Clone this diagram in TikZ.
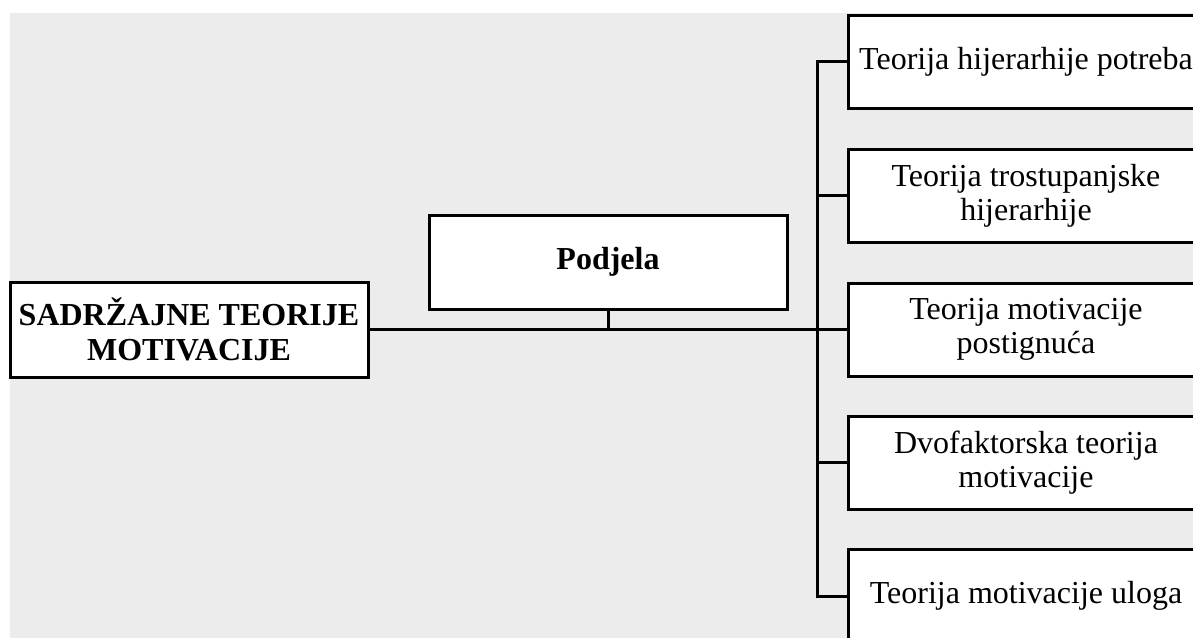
\documentclass[tikz,border=0pt]{standalone}
\usepackage{fontspec}
\setmainfont{Liberation Serif}
\definecolor{bggray}{HTML}{ECECEC}
\begin{document}
\begin{tikzpicture}[x=1pt,y=-1pt,
  box/.style={draw=black, line width=3pt, fill=white, rectangle, inner sep=0pt,
    align=center, font=\fontsize{32}{34}\selectfont},
  boldbox/.style={box, minimum width=358pt, font=\fontsize{32}{35}\selectfont\bfseries},
  leafbox/.style={box, minimum width=356pt, minimum height=93pt},
  conn/.style={line width=3pt, black}]
\useasboundingbox (0,0) rectangle (1193,637);
\clip (0,0) rectangle (1193,637);
\fill[bggray] (10,13) rectangle (1210,650);
\node[boldbox, minimum height=95pt] (root) at (189,329.5) {SADRŽAJNE TEORIJE\\MOTIVACIJE};
\node[boldbox, minimum height=94pt] (podjela) at (608,262) {Podjela};
\node[leafbox] (t1) at (1026,61.5) {Teorija hijerarhije potreba};
\node[leafbox] (t2) at (1026,195.5) {Teorija trostupanjske\\hijerarhije};
\node[leafbox] (t3) at (1026,329.5) {Teorija motivacije\\postignuća};
\node[leafbox] (t4) at (1026,462.5) {Dvofaktorska teorija\\motivacije};
\node[leafbox] (t5) at (1026,596) {Teorija motivacije uloga};
\coordinate (bus) at (817,329.5);
\draw[conn] (root.east) -- (t3.west);
\draw[conn] (podjela.south) -- (podjela.south |- root.east);
\draw[conn] (t1.west) -- (t1.west -| bus) -- (t5.west -| bus) -- (t5.west);
\draw[conn] (t2.west) -- (t2.west -| bus);
\draw[conn] (t4.west) -- (t4.west -| bus);
\end{tikzpicture}
\end{document}
